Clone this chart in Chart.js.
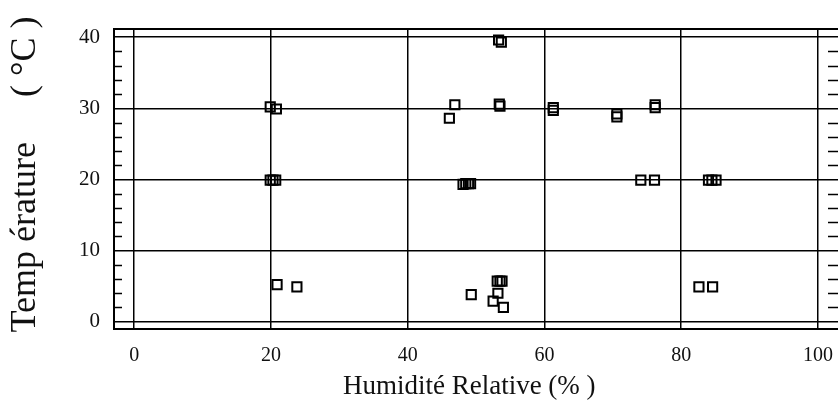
<!DOCTYPE html>
<html>
<head>
<meta charset="utf-8">
<script src="https://cdn.jsdelivr.net/npm/chart.js@4.4.1/dist/chart.umd.min.js"></script>
<style>
  html, body { margin: 0; padding: 0; background: #fff; }
  #wrap { width: 838px; height: 405px; }
</style>
</head>
<body>
<div id="wrap"><canvas id="scatterChart" width="838" height="405"></canvas></div>
<script>
// Values
const humidity = [
    19.9, 20.8, 19.9, 20.3, 20.7, 20.9, 23.8,
    46.9, 46.1, 53.4, 53.5, 53.3, 53.7,
    48.1, 48.5, 48.9, 49.2, 49.3,
    53.1, 53.5, 53.8, 53.2, 52.5, 54.0,
    61.3, 61.3, 70.6, 70.6, 76.2, 76.2,
    74.1, 76.1, 84.0, 84.5, 85.1, 82.6, 84.6
];
const temperature = [
    30.2, 29.9, 19.9, 19.9, 19.9, 5.2, 4.9,
    30.5, 28.6, 30.6, 30.3, 39.6, 39.3,
    19.3, 19.4, 19.4, 19.4, 3.8,
    5.7, 5.7, 5.7, 4.0, 2.9, 2.0,
    30.1, 29.7, 29.2, 28.8, 30.5, 30.1,
    19.9, 19.9, 19.9, 19.9, 19.9, 4.9, 4.9
];
const xTicks = [0, 20, 40, 60, 80, 100];
const yTicks = [0, 10, 20, 30, 40];
const yMinorTicks = [2, 4, 6, 8, 12, 14, 16, 18, 22, 24, 26, 28, 32, 34, 36, 38];

const serif = "'Liberation Serif', 'Times New Roman', serif";

// Box around the plot (right side falls off the canvas) + small ticks on both sides
const framePlugin = {
    id: 'frame',
    afterDraw(chart) {
        const { ctx, chartArea: a, scales: { y } } = chart;
        ctx.save();
        ctx.strokeStyle = '#000';
        ctx.lineWidth = 2;
        ctx.beginPath();
        ctx.moveTo(a.right + 5, a.top);
        ctx.lineTo(a.left, a.top);
        ctx.lineTo(a.left, a.bottom);
        ctx.lineTo(a.right + 5, a.bottom);
        ctx.stroke();
        ctx.lineWidth = 1.5;
        ctx.beginPath();
        yMinorTicks.forEach(v => {
            const py = Math.round(y.getPixelForValue(v)) + 0.5;
            ctx.moveTo(a.left, py);
            ctx.lineTo(a.left + 8, py);
            ctx.moveTo(a.right, py);
            ctx.lineTo(a.right - 10, py);
        });
        ctx.stroke();
        ctx.restore();
    }
};

const points = humidity.map((h, i) => ({ x: h, y: temperature[i] }));

new Chart(document.getElementById('scatterChart'), {
    type: 'scatter',
    data: {
        datasets: [{
            data: points,
            pointStyle: 'rect',
            pointRadius: 6.5,
            pointHoverRadius: 6.5,
            borderWidth: 2,
            borderColor: '#000',
            backgroundColor: 'rgba(0,0,0,0)'
        }]
    },
    options: {
        responsive: false,
        animation: false,
        events: [],
        layout: { autoPadding: false, padding: { top: 29, right: 0, bottom: 0, left: 0 } },
        plugins: { legend: { display: false }, tooltip: { enabled: false } },
        scales: {
            x: {
                type: 'linear',
                min: -2.95,
                max: 102.94,
                afterBuildTicks: s => { s.ticks = xTicks.map(v => ({ value: v })); },
                afterFit: s => { s.height = 76; s.paddingLeft = 0; s.paddingRight = 0; },
                grid: { color: '#000', lineWidth: 1.5, drawTicks: false },
                border: { display: false },
                ticks: { color: '#111', padding: 15, font: { family: serif, size: 20 } },
                title: {
                    display: true,
                    text: 'Humidité Relative (% )  ',
                    color: '#111',
                    padding: { top: 0, bottom: 2 },
                    font: { family: serif, size: 27 }
                }
            },
            y: {
                type: 'linear',
                min: -1.03,
                max: 41.15,
                afterBuildTicks: s => { s.ticks = yTicks.map(v => ({ value: v })); },
                afterFit: s => { s.width = 114; },
                grid: { color: '#000', lineWidth: 1.5, drawTicks: false },
                border: { display: false },
                ticks: { color: '#111', padding: 14, font: { family: serif, size: 21 } },
                title: {
                    display: true,
                    text: ' Temp érature     ( °C )',
                    color: '#111',
                    padding: { top: 4, bottom: 0 },
                    font: { family: serif, size: 36 }
                }
            }
        }
    },
    plugins: [framePlugin]
});
</script>
</body>
</html>
